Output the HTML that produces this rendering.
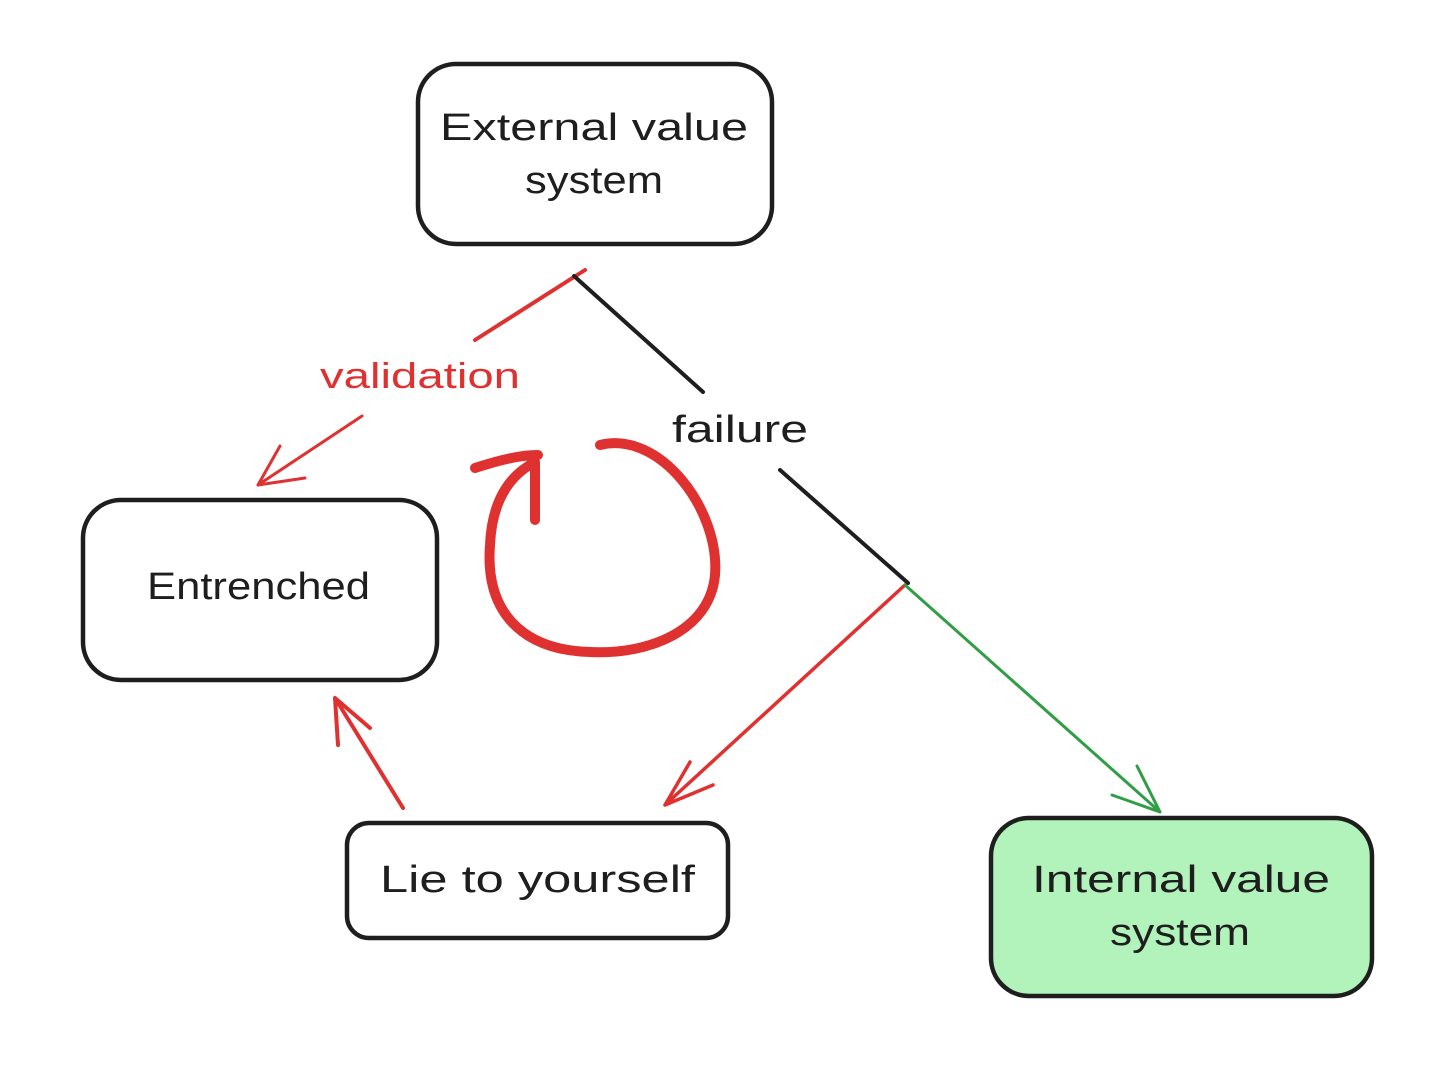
<!DOCTYPE html>
<html><head><meta charset="utf-8"><style>
html,body{margin:0;padding:0;background:#fff;}
svg{display:block;}
text{font-family:"Liberation Sans",sans-serif;}
</style></head><body>
<svg width="1456" height="1073" viewBox="0 0 1456 1073" xmlns="http://www.w3.org/2000/svg">
<g stroke="#1e1e1e" stroke-width="4.5" fill="none">
<rect x="418" y="64" width="354" height="180" rx="38"/>
<rect x="83" y="500" width="354" height="180" rx="38"/>
<rect x="347" y="823" width="381" height="115" rx="22"/>
<rect x="991" y="818" width="381" height="178" rx="38" fill="#b2f2bb"/>
</g>
<g font-size="38" fill="#1e1e1e" lengthAdjust="spacingAndGlyphs">
<text x="440" y="140" textLength="308" lengthAdjust="spacingAndGlyphs">External value</text>
<text x="525" y="193" textLength="138" lengthAdjust="spacingAndGlyphs">system</text>
<text x="147" y="599" textLength="223" lengthAdjust="spacingAndGlyphs">Entrenched</text>
<text x="380" y="892" textLength="315" lengthAdjust="spacingAndGlyphs">Lie to yourself</text>
<text x="1032" y="892" textLength="298" lengthAdjust="spacingAndGlyphs">Internal value</text>
<text x="1110" y="945" textLength="140" lengthAdjust="spacingAndGlyphs">system</text>
<text x="672" y="442" textLength="136" lengthAdjust="spacingAndGlyphs">failure</text>
<text x="320" y="388" font-size="36" fill="#e03131" textLength="200" lengthAdjust="spacingAndGlyphs">validation</text>
</g>
<g fill="none" stroke-linecap="round" stroke-linejoin="round">
<path d="M585 270 L475 340" stroke="#e03131" stroke-width="4"/>
<path d="M362 416 L258 485 M258 485 L280 446 M258 485 L305 478" stroke="#e03131" stroke-width="3"/>
<path d="M574 276 L703 392 M780 470 L908 583" stroke="#1e1e1e" stroke-width="4"/>
<path d="M905 585 L665 805 M665 805 L690 762 M665 805 L713 785" stroke="#e03131" stroke-width="3.5"/>
<path d="M905 585 L1160 812 M1160 812 L1137 766 M1160 812 L1112 795" stroke="#2f9e44" stroke-width="3"/>
<path d="M403 808 L335 698 M335 698 L338 745 M335 698 L370 728" stroke="#e03131" stroke-width="4"/>
<path d="M600 445 C 660 430 720 510 715 575 C 710 630 650 655 590 652 C 520 650 485 610 490 545 C 492 500 510 475 535 462 L535 520 M475 468 C 500 460 520 455 538 455" stroke="#e03131" stroke-width="10"/>
</g>
</svg>
</body></html>
